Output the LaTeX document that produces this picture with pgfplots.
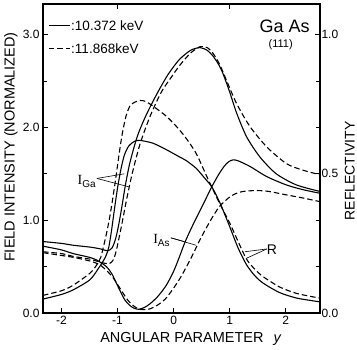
\documentclass[border=0pt]{standalone}
\usepackage{fontspec}
\setmainfont{Liberation Sans}
\newfontfamily\serifI{Liberation Serif}
\usepackage{pgfplots}
\pgfplotsset{compat=1.18}
\begin{document}
\begin{tikzpicture}
\pgfplotsset{
  common/.style={
    scale only axis, width=277pt, height=309pt,
    xmin=-2.33, xmax=2.61,
    tick align=inside,
    major tick length=5pt, minor tick length=4pt,
    every tick/.style={black, line width=0.9pt},
    axis line style={line width=1.2pt},
    ticklabel style={font=\fontsize{12}{12}\selectfont},
    /pgf/number format/assume math mode=true,
  },
  cs/.style={black, line width=1.1pt, smooth, tension=0.45, no markers},
  cd/.style={black, line width=1.1pt, smooth, tension=0.45, no markers, dash pattern=on 5.5pt off 3pt},
}
\begin{axis}[common,
  ymin=0, ymax=3.33,
  xtick={-2,-1,0,1,2}, xticklabels={-2,-1,0,1,2},
  xtick pos=bottom,
  ytick={0,1,2,3}, yticklabels={0.0,1.0,2.0,3.0},
  minor ytick={0.5,1.5,2.5},
  ytick pos=left,
  clip=false,
]
% I_Ga solid
\addplot[cs] coordinates {(-2.33,0.77) (-2.0,0.75) (-1.79,0.73) (-1.49,0.71) (-1.3,0.69) (-1.18,0.67) (-1.1,0.70) (-1.04,0.79) (-0.99,0.92) (-0.93,1.12) (-0.86,1.38) (-0.78,1.62) (-0.65,1.9) (-0.5,2.12) (-0.3,2.36) (-0.1,2.57) (0.1,2.73) (0.3,2.83) (0.47,2.86) (0.6,2.83) (0.7,2.77) (0.8,2.68) (0.88,2.58) (1.0,2.38) (1.12,2.16) (1.3,1.9) (1.54,1.68) (1.83,1.5) (2.19,1.38) (2.61,1.31)};
% I_Ga dashed
\addplot[cd] coordinates {(-2.33,0.66) (-2.0,0.64) (-1.79,0.61) (-1.49,0.58) (-1.32,0.55) (-1.15,0.53) (-1.07,0.58) (-1.02,0.68) (-0.97,0.82) (-0.91,1.0) (-0.84,1.22) (-0.74,1.5) (-0.6,1.82) (-0.42,2.12) (-0.22,2.38) (-0.02,2.56) (0.11,2.67) (0.3,2.8) (0.47,2.87) (0.6,2.86) (0.7,2.8) (0.82,2.68) (0.94,2.51) (1.12,2.26) (1.36,2.01) (1.66,1.79) (2.01,1.61) (2.3,1.54) (2.61,1.49)};
% R solid
\addplot[cs] coordinates {(-2.33,0.15) (-2.0,0.2) (-1.79,0.25) (-1.49,0.36) (-1.32,0.5) (-1.22,0.6) (-1.16,0.7) (-1.11,0.88) (-1.06,1.1) (-1.0,1.35) (-0.94,1.55) (-0.88,1.7) (-0.8,1.8) (-0.7,1.85) (-0.6,1.86) (-0.37,1.83) (-0.13,1.76) (0.08,1.69) (0.23,1.64) (0.4,1.56) (0.53,1.47) (0.68,1.36) (0.8,1.22) (0.88,1.11) (1.0,0.93) (1.15,0.7) (1.3,0.52) (1.45,0.4) (1.6,0.32) (1.89,0.22) (2.2,0.16) (2.61,0.12)};
% R dashed
\addplot[cd] coordinates {(-2.33,0.19) (-2.0,0.24) (-1.79,0.30) (-1.49,0.43) (-1.37,0.52) (-1.3,0.6) (-1.25,0.72) (-1.2,0.85) (-1.15,1.0) (-1.1,1.18) (-1.04,1.42) (-0.98,1.68) (-0.92,1.92) (-0.85,2.12) (-0.78,2.23) (-0.7,2.27) (-0.6,2.29) (-0.5,2.28) (-0.37,2.23) (-0.13,2.12) (0.08,1.99) (0.25,1.86) (0.41,1.71) (0.6,1.46) (0.82,1.18) (1.0,0.97) (1.15,0.77) (1.3,0.58) (1.45,0.47) (1.6,0.39) (1.89,0.28) (2.2,0.21) (2.61,0.16)};
% I_As solid
\addplot[cs] coordinates {(-2.33,0.72) (-2.0,0.68) (-1.79,0.64) (-1.5,0.6) (-1.37,0.57) (-1.2,0.5) (-1.1,0.42) (-1.02,0.32) (-0.94,0.22) (-0.87,0.14) (-0.78,0.08) (-0.7,0.05) (-0.62,0.04) (-0.52,0.06) (-0.42,0.1) (-0.28,0.18) (-0.13,0.3) (0.0,0.45) (0.1,0.6) (0.2,0.76) (0.32,0.92) (0.45,1.08) (0.55,1.2) (0.68,1.36) (0.8,1.49) (0.9,1.58) (0.98,1.63) (1.06,1.65) (1.15,1.64) (1.36,1.58) (1.66,1.47) (2.01,1.38) (2.3,1.33) (2.61,1.29)};
% I_As dashed
\addplot[cd] coordinates {(-2.33,0.65) (-2.0,0.62) (-1.79,0.6) (-1.49,0.56) (-1.32,0.52) (-1.2,0.46) (-1.08,0.38) (-0.95,0.26) (-0.82,0.14) (-0.7,0.07) (-0.6,0.04) (-0.45,0.04) (-0.3,0.08) (-0.15,0.15) (-0.01,0.26) (0.12,0.38) (0.23,0.5) (0.35,0.64) (0.47,0.79) (0.65,0.99) (0.82,1.15) (1.0,1.25) (1.12,1.29) (1.24,1.31) (1.48,1.32) (1.7,1.31) (1.95,1.28) (2.3,1.24) (2.61,1.2)};
% legend
\draw[black, line width=1.1pt] (axis cs:-2.225,3.10) -- (axis cs:-1.85,3.10);
\draw[black, line width=1.1pt, dash pattern=on 5.5pt off 3pt] (axis cs:-2.225,2.85) -- (axis cs:-1.85,2.85);
\node[anchor=west, inner sep=0pt, font=\fontsize{13.5}{13.5}\selectfont] at (axis cs:-1.83,3.10) {:10.372 keV};
\node[anchor=west, inner sep=0pt, font=\fontsize{13.5}{13.5}\selectfont] at (axis cs:-1.83,2.85) {:11.868keV};
% title
\node[font=\fontsize{18}{18}\selectfont] at (axis cs:1.98,3.09) {Ga As};
\node[font=\fontsize{11}{11}\selectfont] at (axis cs:1.91,2.89) {(111)};
% curve labels
\node[anchor=east, inner sep=1pt, font=\fontsize{14}{14}\selectfont] at (axis cs:-1.37,1.42) {{\serifI I}\raisebox{-0.35ex}{\fontsize{10}{10}\selectfont Ga}};
\draw[black, line width=0.6pt] (axis cs:-1.37,1.45) -- (axis cs:-0.88,1.50);
\draw[black, line width=0.6pt] (axis cs:-1.37,1.45) -- (axis cs:-0.80,1.36);
\node[anchor=east, inner sep=1pt, font=\fontsize{14}{14}\selectfont] at (axis cs:-0.05,0.78) {{\serifI I}\raisebox{-0.35ex}{\fontsize{10}{10}\selectfont As}};
\draw[black, line width=0.6pt] (axis cs:-0.05,0.81) -- (axis cs:0.19,0.77);
\draw[black, line width=0.6pt] (axis cs:-0.05,0.81) -- (axis cs:0.40,0.73);
\node[anchor=west, inner sep=1pt, font=\fontsize{14}{14}\selectfont] at (axis cs:1.64,0.68) {R};
\draw[black, line width=0.6pt] (axis cs:1.66,0.69) -- (axis cs:1.27,0.66);
\draw[black, line width=0.6pt] (axis cs:1.66,0.69) -- (axis cs:1.30,0.59);
% axis labels
\node[font=\fontsize{14.5}{14.5}\selectfont] at (axis description cs:0.534,-0.084) {ANGULAR PARAMETER\hspace{10pt}\textit{y}};
\node[rotate=90, font=\fontsize{14.5}{14.5}\selectfont] at (axis description cs:-0.116,0.537) {FIELD INTENSITY (NORMALIZED)};
\node[rotate=90, font=\fontsize{14}{14}\selectfont] at (axis description cs:1.108,0.46) {REFLECTIVITY};
\end{axis}
\begin{axis}[common,
  ymin=0, ymax=1.11,
  axis y line*=right, axis x line*=top,
  xtick={-1,1}, xticklabels={},
  ytick={0,0.5,1}, yticklabels={0.0,0.5,1.0},
  minor ytick={0.16667,0.33333,0.66667,0.83333},
  yticklabel style={xshift=-2pt},
]
\end{axis}
\pgfresetboundingbox
\useasboundingbox (-43pt,-37pt) rectangle (314pt,313pt);
\end{tikzpicture}
\end{document}
